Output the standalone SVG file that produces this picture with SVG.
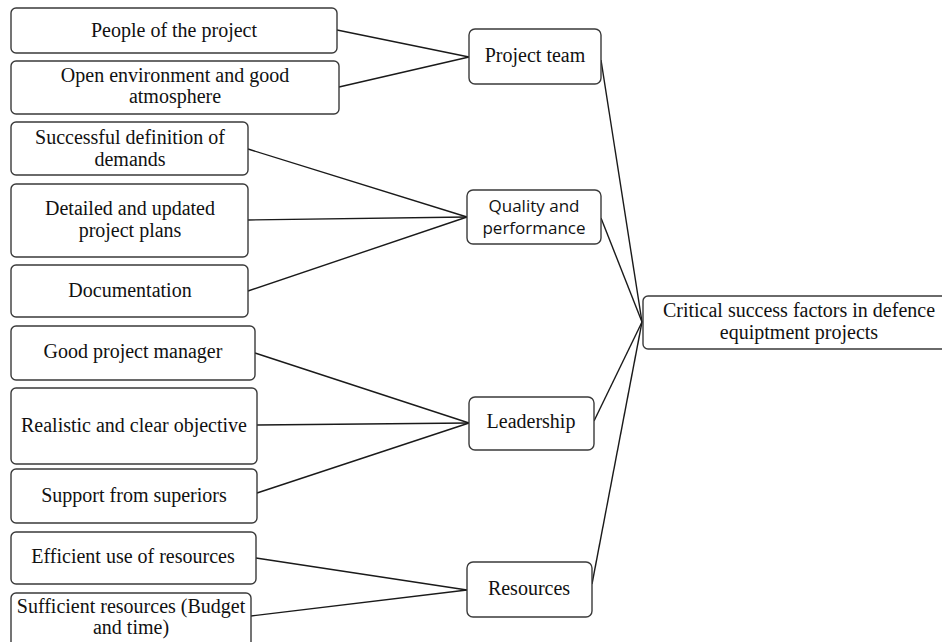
<svg xmlns="http://www.w3.org/2000/svg" width="942" height="642" viewBox="0 0 942 642">
<style>
.box{fill:#fff;stroke:#3a3a3a;stroke-width:1.4}
.t{font-family:"Liberation Serif","Times New Roman",serif;font-size:20px;fill:#111;text-anchor:middle}
.s{font-family:"Open Sans","Liberation Sans",sans-serif;font-size:17px;fill:#111;text-anchor:middle}
.c{stroke:#1a1a1a;stroke-width:1.4;fill:none}
</style>
<rect width="942" height="642" fill="#fff"/>
<g id="connectors">
<line class="c" x1="337" y1="30" x2="469" y2="57"/>
<line class="c" x1="339" y1="87" x2="469" y2="57"/>
<line class="c" x1="248" y1="149" x2="467" y2="217"/>
<line class="c" x1="248" y1="220" x2="467" y2="217"/>
<line class="c" x1="248" y1="291" x2="467" y2="217"/>
<line class="c" x1="255" y1="353" x2="469" y2="423"/>
<line class="c" x1="257" y1="425" x2="469" y2="423"/>
<line class="c" x1="257" y1="493" x2="469" y2="423"/>
<line class="c" x1="256" y1="558" x2="467" y2="590"/>
<line class="c" x1="251" y1="616" x2="467" y2="590"/>
<line class="c" x1="601" y1="60" x2="642" y2="322"/>
<line class="c" x1="601" y1="218" x2="642" y2="322"/>
<line class="c" x1="594" y1="421" x2="642" y2="322"/>
<line class="c" x1="592" y1="584" x2="642" y2="322"/>
</g>
<g id="people"><rect class="box" x="11" y="8" width="326" height="45" rx="5"/><text class="t" x="174" y="37">People of the project</text></g>
<g id="open-env"><rect class="box" x="11" y="61" width="328" height="53" rx="5"/><text class="t" x="175" y="82">Open environment and good</text><text class="t" x="175" y="103">atmosphere</text></g>
<g id="successful"><rect class="box" x="11" y="122" width="237" height="53" rx="5"/><text class="t" x="130" y="144">Successful definition of</text><text class="t" x="130" y="166">demands</text></g>
<g id="detailed"><rect class="box" x="11" y="184" width="237" height="73" rx="5"/><text class="t" x="130" y="215">Detailed and updated</text><text class="t" x="130" y="237">project plans</text></g>
<g id="documentation"><rect class="box" x="11" y="265" width="237" height="52" rx="5"/><text class="t" x="130" y="297">Documentation</text></g>
<g id="good-pm"><rect class="box" x="11" y="326" width="244" height="54" rx="5"/><text class="t" x="133" y="358">Good project manager</text></g>
<g id="realistic"><rect class="box" x="11" y="388" width="246" height="76" rx="5"/><text class="t" x="134" y="432">Realistic and clear objective</text></g>
<g id="support"><rect class="box" x="11" y="469" width="246" height="54" rx="5"/><text class="t" x="134" y="502">Support from superiors</text></g>
<g id="efficient"><rect class="box" x="11" y="532" width="245" height="52" rx="5"/><text class="t" x="133" y="563">Efficient use of resources</text></g>
<g id="sufficient"><rect class="box" x="11" y="593" width="240" height="56" rx="5"/><text class="t" x="131" y="613">Sufficient resources (Budget</text><text class="t" x="131" y="634">and time)</text></g>
<g id="project-team"><rect class="box" x="469" y="29" width="132" height="55" rx="6"/><text class="t" x="535" y="62">Project team</text></g>
<g id="quality"><rect class="box" x="467" y="190" width="134" height="54" rx="6"/><text class="s" x="534" y="212">Quality and</text><text class="s" x="534" y="234">performance</text></g>
<g id="leadership"><rect class="box" x="469" y="397" width="125" height="53" rx="6"/><text class="t" x="531" y="428">Leadership</text></g>
<g id="resources"><rect class="box" x="467" y="562" width="125" height="55" rx="6"/><text class="t" x="529" y="595">Resources</text></g>
<g id="critical"><rect class="box" x="643" y="296" width="312" height="53" rx="5"/><text class="t" x="799" y="317">Critical success factors in defence</text><text class="t" x="799" y="339">equiptment projects</text></g>
</svg>
